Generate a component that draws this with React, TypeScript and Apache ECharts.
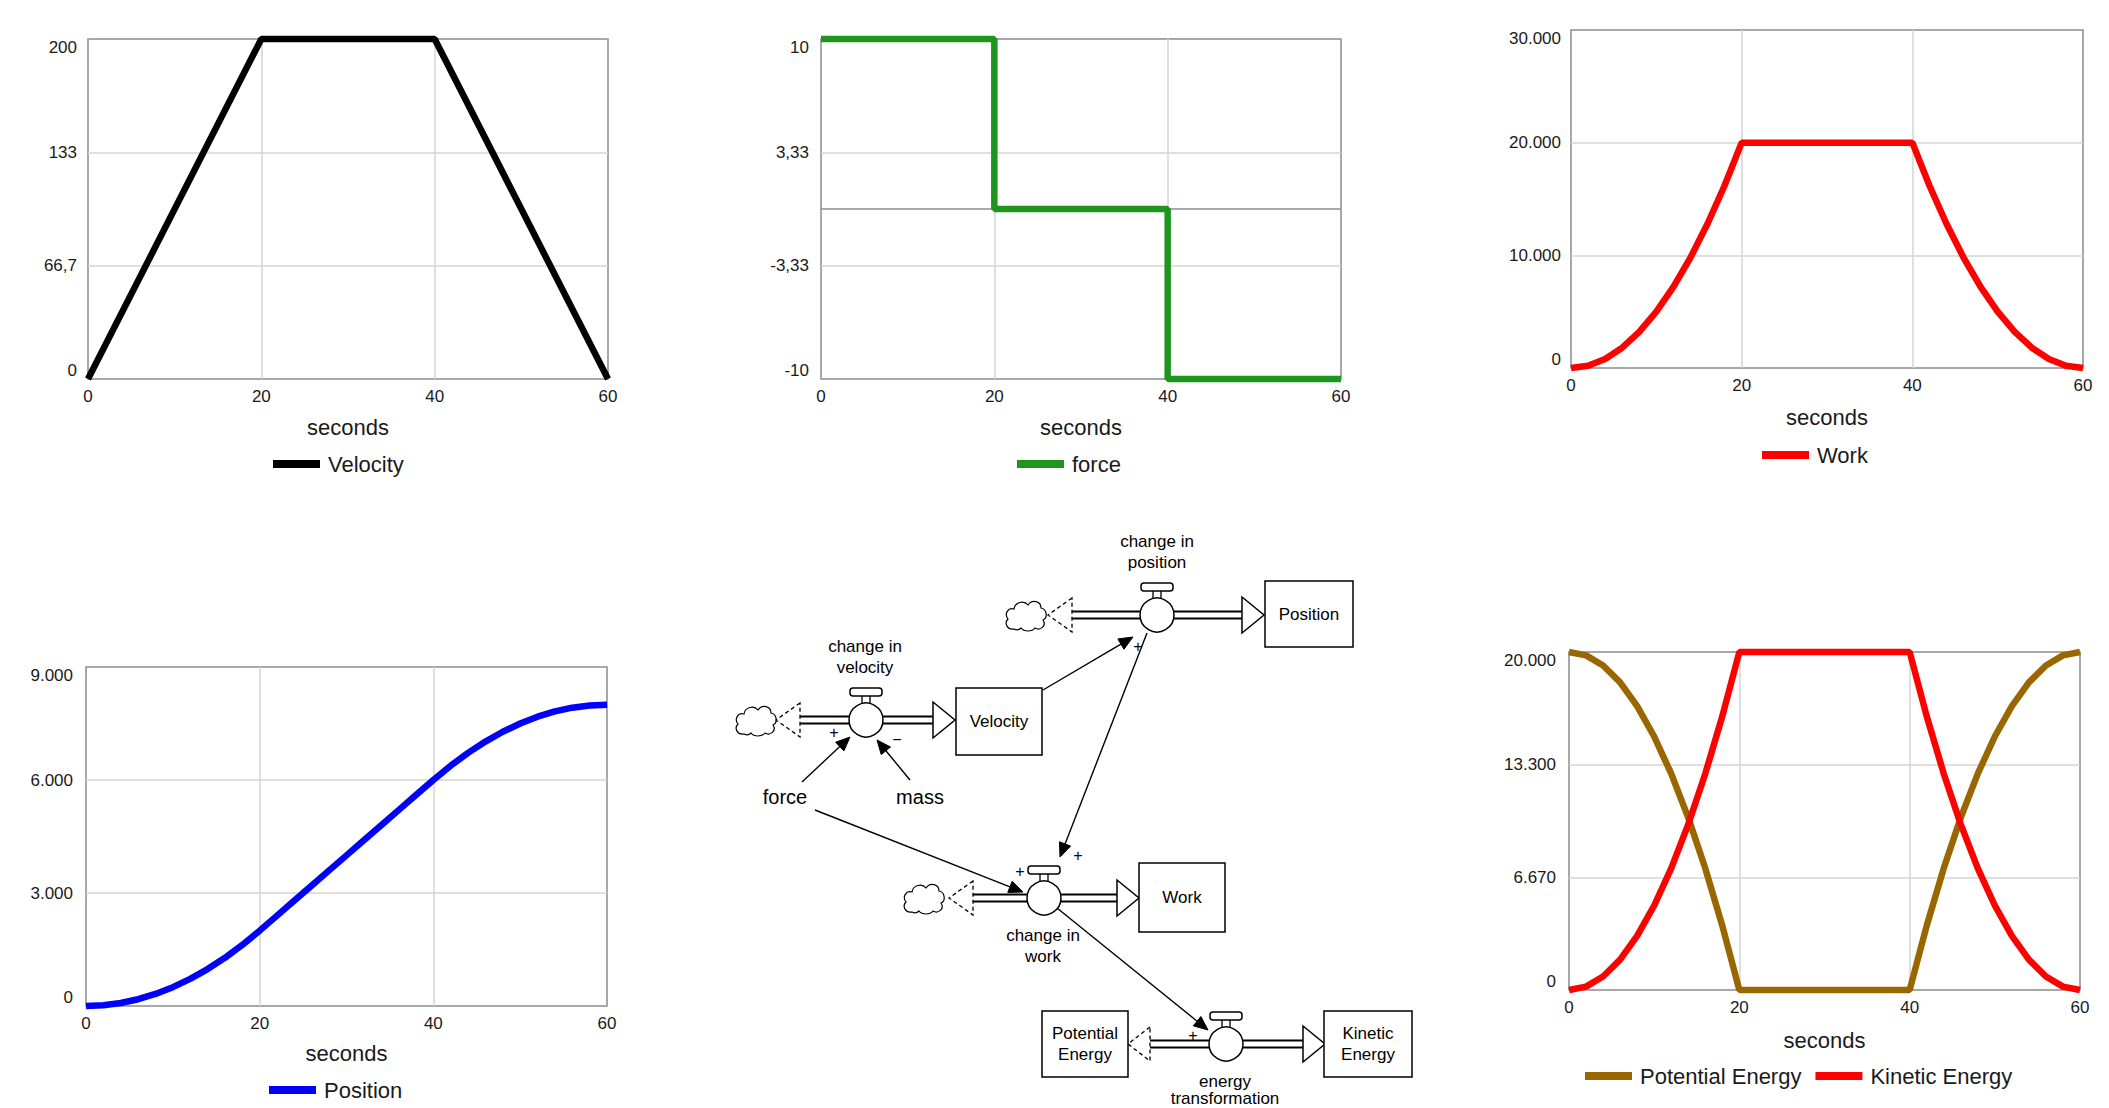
import React, { useEffect, useRef } from "react";
import * as echarts from "echarts";

// ---------------- data ----------------
const seconds = [0, 2, 4, 6, 8, 10, 12, 14, 16, 18, 20, 22, 24, 26, 28, 30, 32, 34, 36, 38, 40, 42, 44, 46, 48, 50, 52, 54, 56, 58, 60];

const velocityTime = [0, 20, 40, 60];
const velocityValues = [0, 200, 200, 0];

const forceTime = [0, 20, 20, 40, 40, 60];
const forceValues = [10, 10, 0, 0, -10, -10];

const workValues = [
  0, 200, 800, 1800, 3200, 5000, 7200, 9800, 12800, 16200, 20000,
  20000, 20000, 20000, 20000, 20000, 20000, 20000, 20000, 20000,
  20000, 16200, 12800, 9800, 7200, 5000, 3200, 1800, 800, 200, 0,
];

const positionValues = [
  0, 20, 80, 180, 320, 500, 720, 980, 1280, 1620, 2000,
  2400, 2800, 3200, 3600, 4000, 4400, 4800, 5200, 5600,
  6000, 6380, 6720, 7020, 7280, 7500, 7680, 7820, 7920, 7980, 8000,
];

const potentialEnergyValues = [
  20000, 19800, 19200, 18200, 16800, 15000, 12800, 10200, 7200, 3800, 0,
  0, 0, 0, 0, 0, 0, 0, 0, 0,
  0, 3800, 7200, 10200, 12800, 15000, 16800, 18200, 19200, 19800, 20000,
];

const kineticEnergyValues = [
  0, 200, 800, 1800, 3200, 5000, 7200, 9800, 12800, 16200, 20000,
  20000, 20000, 20000, 20000, 20000, 20000, 20000, 20000, 20000,
  20000, 16200, 12800, 9800, 7200, 5000, 3200, 1800, 800, 200, 0,
];

const xTickValues = [0, 20, 40, 60];
const xTickLabels = ["0", "20", "40", "60"];

const velocityTickValues = [0, 66.7, 133.3, 200];
const velocityTickLabels = ["0", "66,7", "133", "200"];

const forceTickValues = [-10, -6.67, -3.33, 0, 3.33, 6.67, 10];
const forceTickLabels = ["-10", "", "-3,33", "", "3,33", "", "10"];

const workTickValues = [0, 10000, 20000, 30000];
const workTickLabels = ["0", "10.000", "20.000", "30.000"];

const positionTickValues = [0, 3000, 6000, 9000];
const positionTickLabels = ["0", "3.000", "6.000", "9.000"];

const energyTickValues = [0, 6670, 13300, 20000];
const energyTickLabels = ["0", "6.670", "13.300", "20.000"];

// ---------------- styling ----------------
const FONT = '"Liberation Sans", Arial, Helvetica, sans-serif';
const TXT = "#1a1a1a";
const GRID = "#d4d4d4";
const NONE = "rgba(0,0,0,0)";
const BORDER = "#8c8c8c";
const INK = "#000000";

const CLOUD_D =
  "M10 30 C3 31 0 24 4 20 C0 15 4 8 10 10 C11 3 20 1 24 6 C28 0 37 2 37 9 C43 10 44 19 39 21 C43 27 36 32 31 29 C28 33 20 33 17 29 C15 31 12 31 10 30 Z";
let cloudRegistered = false;
function ensureCloud() {
  if (!cloudRegistered) {
    echarts.graphic.registerShape("cloud", echarts.graphic.extendPath(CLOUD_D, {}));
    cloudRegistered = true;
  }
}

function pick(values: number[], labels: string[]) {
  return (v: number) => {
    let best = 0;
    for (let i = 1; i < values.length; i++) {
      if (Math.abs(values[i] - v) < Math.abs(values[best] - v)) best = i;
    }
    return labels[best];
  };
}

function xAxis(gridIndex: number, nameGap: number) {
  return {
    type: "value",
    gridIndex,
    min: 0,
    max: 60,
    interval: 20,
    name: "seconds",
    nameLocation: "middle",
    nameGap,
    nameTextStyle: { fontSize: 22, color: TXT, fontFamily: FONT },
    axisLine: { show: false },
    axisTick: { show: false },
    axisLabel: { margin: 9, fontSize: 17, color: TXT, fontFamily: FONT, formatter: pick(xTickValues, xTickLabels) },
    splitLine: { show: true, lineStyle: { color: [NONE, GRID, GRID, NONE], width: 1.5 } },
  };
}

function yAxis(
  gridIndex: number,
  min: number,
  max: number,
  interval: number,
  tv: number[],
  tl: string[],
  colors: string[],
  margin: number
) {
  return {
    type: "value",
    gridIndex,
    min,
    max,
    interval,
    axisLine: { show: false },
    axisTick: { show: false },
    axisLabel: {
      margin,
      fontSize: 17,
      color: TXT,
      fontFamily: FONT,
      verticalAlignMinLabel: "bottom",
      verticalAlignMaxLabel: "top",
      formatter: pick(tv, tl),
    },
    splitLine: { show: true, lineStyle: { color: colors, width: 1.5 } },
  };
}

function lineSeries(name: string, idx: number, xs: number[], ys: number[], color: string) {
  return {
    type: "line",
    name,
    xAxisIndex: idx,
    yAxisIndex: idx,
    data: xs.map((t, i) => [t, ys[i]]),
    showSymbol: false,
    symbol: "none",
    clip: false,
    color,
    itemStyle: { color },
    lineStyle: { color, width: 6.5 },
  };
}

function legend(names: string[], left: number, top: number) {
  return {
    data: names,
    left,
    top,
    orient: "horizontal",
    padding: 0,
    itemGap: 14,
    icon: "rect",
    itemWidth: 47,
    itemHeight: 8,
    itemStyle: { borderWidth: 0 },
    selectedMode: false,
    textStyle: { fontSize: 22, color: TXT, fontFamily: FONT, padding: [0, 0, 0, 3] },
  };
}

// ---------------- diagram helpers ----------------
function txt(text: string, x: number, y: number, size = 17) {
  return {
    type: "text",
    x,
    y,
    style: { text, fill: INK, fontSize: size, fontFamily: FONT, align: "center", verticalAlign: "middle" },
  };
}

function box(x: number, y: number, w: number, h: number, lines: string[]) {
  const els: any[] = [
    { type: "rect", shape: { x, y, width: w, height: h }, style: { fill: "#fff", stroke: INK, lineWidth: 1.5 } },
  ];
  const cy = y + h / 2;
  const step = 21;
  lines.forEach((l, i) => {
    els.push(txt(l, x + w / 2, cy + (i - (lines.length - 1) / 2) * step, 17));
  });
  return els;
}

function cloud(x: number, y: number) {
  return { type: "cloud", x, y, style: { fill: "#fff", stroke: INK, lineWidth: 1.2 } };
}

function sourceTri(xs: number, yc: number, len = 24) {
  return {
    type: "polygon",
    shape: { points: [[xs, yc - 17], [xs - len, yc], [xs, yc + 17]] },
    style: { fill: "#fff", stroke: INK, lineWidth: 1.3, lineDash: [4, 3] },
  };
}

function pipe(xs: number, xa: number, yc: number) {
  return [
    { type: "line", shape: { x1: xs, y1: yc - 3.5, x2: xa, y2: yc - 3.5 }, style: { stroke: INK, lineWidth: 2 } },
    { type: "line", shape: { x1: xs, y1: yc + 3.5, x2: xa, y2: yc + 3.5 }, style: { stroke: INK, lineWidth: 2 } },
    {
      type: "polygon",
      shape: { points: [[xa, yc - 18], [xa + 22, yc], [xa, yc + 18]] },
      style: { fill: "#fff", stroke: INK, lineWidth: 1.5 },
    },
  ];
}

function valve(cx: number, cy: number) {
  return [
    { type: "rect", shape: { x: cx - 4, y: cy - 25, width: 8, height: 9 }, style: { fill: "#fff", stroke: INK, lineWidth: 1.3 } },
    { type: "rect", shape: { x: cx - 16, y: cy - 32, width: 32, height: 8, r: 3 }, style: { fill: "#fff", stroke: INK, lineWidth: 1.5 } },
    { type: "circle", shape: { cx, cy, r: 17 }, style: { fill: "#fff", stroke: INK, lineWidth: 1.5 } },
  ];
}

function influence(x1: number, y1: number, x2: number, y2: number) {
  const dx = x2 - x1;
  const dy = y2 - y1;
  const L = Math.hypot(dx, dy);
  const ux = dx / L;
  const uy = dy / L;
  const hl = 14;
  const hw = 6;
  const bx = x2 - ux * hl;
  const by = y2 - uy * hl;
  return [
    { type: "line", shape: { x1, y1, x2: bx, y2: by }, style: { stroke: INK, lineWidth: 1.4 } },
    {
      type: "polygon",
      shape: { points: [[x2, y2], [bx - uy * hw, by + ux * hw], [bx + uy * hw, by - ux * hw]] },
      style: { fill: INK, stroke: INK, lineWidth: 1 },
    },
  ];
}

function buildDiagram() {
  const els: any[] = [];
  // change in velocity -> Velocity
  els.push(cloud(734, 704), sourceTri(800, 720), ...pipe(800, 933, 720), ...valve(866, 720));
  els.push(...box(956, 688, 86, 67, ["Velocity"]));
  els.push(txt("change in", 865, 646), txt("velocity", 865, 667));
  // change in position -> Position
  els.push(cloud(1004, 599), sourceTri(1072, 615), ...pipe(1072, 1242, 615), ...valve(1157, 615));
  els.push(...box(1265, 581, 88, 66, ["Position"]));
  els.push(txt("change in", 1157, 541), txt("position", 1157, 562));
  // change in work -> Work
  els.push(cloud(902, 882), sourceTri(973, 898), ...pipe(973, 1117, 898), ...valve(1044, 898));
  els.push(...box(1139, 863, 86, 69, ["Work"]));
  els.push(txt("change in", 1043, 935), txt("work", 1043, 956));
  // energy transformation: Potential Energy -> Kinetic Energy
  els.push(sourceTri(1150, 1044, 22), ...pipe(1150, 1303, 1044), ...valve(1226, 1044));
  els.push(...box(1042, 1011, 86, 66, ["Potential", "Energy"]));
  els.push(...box(1324, 1011, 88, 66, ["Kinetic", "Energy"]));
  els.push(txt("energy", 1225, 1081), txt("transformation", 1225, 1098));
  // auxiliaries
  els.push(txt("force", 785, 797, 20), txt("mass", 920, 797, 20));
  // influence arrows
  els.push(...influence(802, 782, 850, 737));
  els.push(...influence(910, 780, 877, 740));
  els.push(...influence(1043, 690, 1133, 637));
  els.push(...influence(1147, 633, 1060, 857));
  els.push(...influence(815, 810, 1023, 892));
  els.push(...influence(1057, 908, 1208, 1030));
  // polarity signs
  els.push(txt("+", 834, 732, 16), txt("\u2212", 897, 739, 16));
  els.push(txt("+", 1138, 646, 16), txt("+", 1078, 855, 16));
  els.push(txt("+", 1020, 871, 16), txt("+", 1193, 1035, 16));
  return els;
}

export default function App() {
  const ref = useRef<HTMLDivElement>(null);

  useEffect(() => {
    if (!ref.current) return;
    ensureCloud();
    const chart = echarts.init(ref.current, undefined, { renderer: "svg" });

    const gridBase = { show: true, borderColor: BORDER, borderWidth: 1.5, backgroundColor: "#fff", containLabel: false };
    const lineCols = [NONE, GRID, GRID, NONE];

    const option: any = {
      animation: false,
      backgroundColor: "#ffffff",
      textStyle: { fontFamily: FONT },
      grid: [
        { ...gridBase, left: 88, top: 39, width: 520, height: 340 },
        { ...gridBase, left: 821, top: 39, width: 520, height: 340 },
        { ...gridBase, left: 1571, top: 30, width: 512, height: 338 },
        { ...gridBase, left: 86, top: 667, width: 521, height: 339 },
        { ...gridBase, left: 1569, top: 652, width: 511, height: 338 },
      ],
      xAxis: [xAxis(0, 37), xAxis(1, 37), xAxis(2, 38), xAxis(3, 36), xAxis(4, 39)],
      yAxis: [
        yAxis(0, 0, 200, 66.6667, velocityTickValues, velocityTickLabels, lineCols, 11),
        yAxis(1, -10, 10, 3.33334, forceTickValues, forceTickLabels, [NONE, NONE, GRID, BORDER, GRID, NONE, NONE], 12),
        yAxis(2, 0, 30000, 10000, workTickValues, workTickLabels, lineCols, 10),
        yAxis(3, 0, 9000, 3000, positionTickValues, positionTickLabels, lineCols, 13),
        yAxis(4, 0, 20000, 6666.67, energyTickValues, energyTickLabels, lineCols, 13),
      ],
      legend: [
        legend(["Velocity"], 273, 453),
        legend(["force"], 1017, 453),
        legend(["Work"], 1762, 444),
        legend(["Position"], 269, 1079),
        legend(["Potential Energy", "Kinetic Energy"], 1585, 1065),
      ],
      series: [
        lineSeries("Velocity", 0, velocityTime, velocityValues, "#000000"),
        lineSeries("force", 1, forceTime, forceValues, "#1e961e"),
        lineSeries("Work", 2, seconds, workValues, "#ff0000"),
        lineSeries("Position", 3, seconds, positionValues, "#0000ff"),
        lineSeries("Potential Energy", 4, seconds, potentialEnergyValues, "#996600"),
        lineSeries("Kinetic Energy", 4, seconds, kineticEnergyValues, "#ff0000"),
      ],
      graphic: { elements: buildDiagram() },
    };

    chart.setOption(option);
    return () => {
      chart.dispose();
    };
  }, []);

  return (
    <div
      ref={ref}
      style={{ position: "fixed", left: 0, top: 0, width: 2109, height: 1108, background: "#fff" }}
    />
  );
}
